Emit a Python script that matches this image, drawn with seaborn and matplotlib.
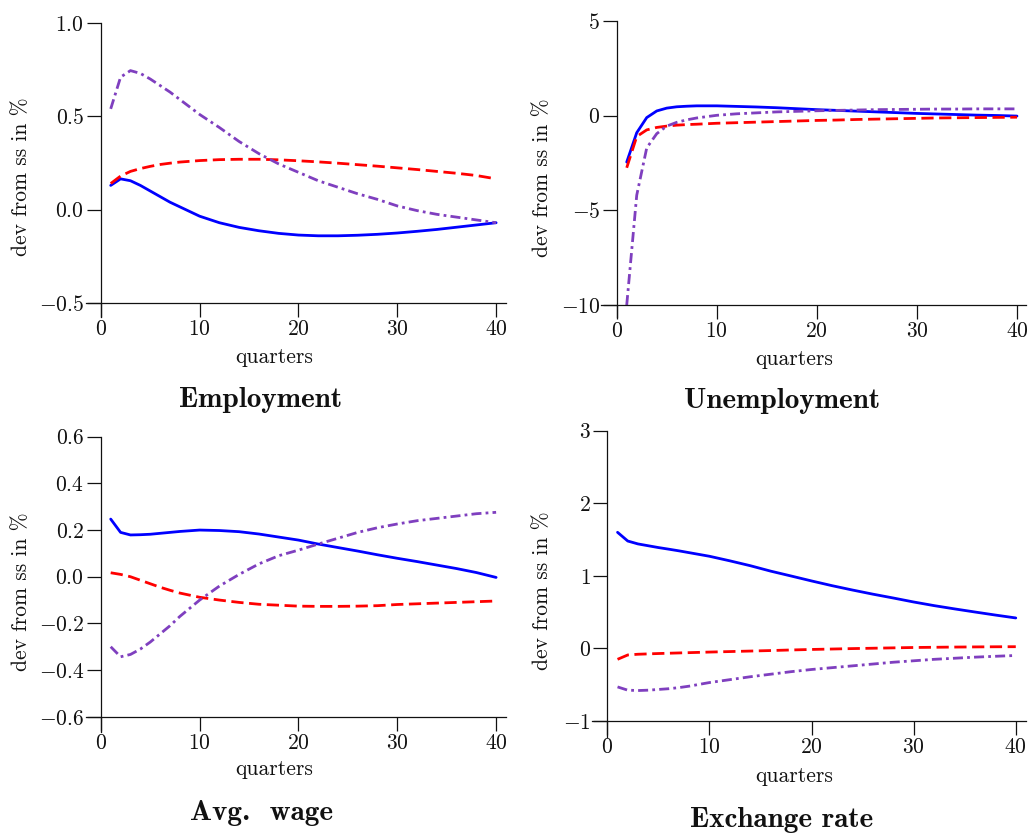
import numpy as np
import pandas as pd
import matplotlib
matplotlib.use("Agg")
import matplotlib.pyplot as plt
import seaborn as sns

# ── Data ─────────────────────────────────────────────────────────────────────
quarters = [1, 2, 3, 4, 5, 6, 7, 8, 10, 12, 14, 16, 18, 20, 22, 24, 26, 28, 30, 32, 34, 36, 38, 40]

emp_blue = [0.13, 0.165, 0.155, 0.13, 0.10, 0.07, 0.04, 0.015, -0.035, -0.07, -0.095, -0.113,
            -0.127, -0.136, -0.14, -0.14, -0.137, -0.132, -0.125, -0.116, -0.106, -0.094, -0.082, -0.07]
emp_red = [0.14, 0.18, 0.205, 0.22, 0.232, 0.242, 0.249, 0.255, 0.263, 0.268, 0.27, 0.27,
           0.267, 0.262, 0.256, 0.249, 0.241, 0.233, 0.224, 0.215, 0.205, 0.195, 0.183, 0.165]
emp_purple = [0.54, 0.71, 0.745, 0.73, 0.70, 0.665, 0.63, 0.59, 0.51, 0.44, 0.365, 0.30,
              0.245, 0.20, 0.155, 0.12, 0.085, 0.055, 0.02, -0.005, -0.025, -0.04, -0.055, -0.07]

unemp_blue = [-2.45, -0.9, -0.1, 0.25, 0.4, 0.47, 0.5, 0.52, 0.52, 0.49, 0.46, 0.42,
              0.37, 0.32, 0.28, 0.24, 0.2, 0.16, 0.12, 0.09, 0.06, 0.03, 0.01, -0.02]
unemp_red = [-2.75, -1.1, -0.75, -0.62, -0.55, -0.5, -0.47, -0.45, -0.4, -0.37, -0.34, -0.31,
             -0.28, -0.25, -0.23, -0.2, -0.18, -0.16, -0.14, -0.12, -0.11, -0.1, -0.09, -0.08]
unemp_purple = [-10.0, -4.2, -1.7, -0.95, -0.55, -0.35, -0.22, -0.12, 0.02, 0.1, 0.15, 0.2,
                0.23, 0.26, 0.28, 0.3, 0.32, 0.33, 0.34, 0.35, 0.35, 0.36, 0.36, 0.36]

wage_blue = [0.247, 0.19, 0.179, 0.18, 0.182, 0.186, 0.19, 0.194, 0.2, 0.198, 0.193, 0.183,
             0.17, 0.157, 0.14, 0.125, 0.11, 0.094, 0.079, 0.065, 0.05, 0.035, 0.018, -0.003]
wage_red = [0.017, 0.01, 0.0, -0.015, -0.03, -0.045, -0.058, -0.07, -0.088, -0.1, -0.11, -0.118,
            -0.122, -0.126, -0.127, -0.127, -0.126, -0.124, -0.119, -0.116, -0.113, -0.11, -0.107, -0.104]
wage_purple = [-0.3, -0.343, -0.333, -0.31, -0.28, -0.245, -0.21, -0.17, -0.1, -0.04, 0.01, 0.055,
               0.09, 0.114, 0.14, 0.165, 0.19, 0.21, 0.226, 0.24, 0.25, 0.26, 0.27, 0.276]

fx_blue = [1.60, 1.48, 1.44, 1.415, 1.39, 1.368, 1.345, 1.32, 1.27, 1.207, 1.14, 1.065,
           0.998, 0.93, 0.865, 0.805, 0.748, 0.695, 0.64, 0.59, 0.545, 0.502, 0.46, 0.42]
fx_red = [-0.15, -0.09, -0.08, -0.075, -0.07, -0.066, -0.062, -0.058, -0.05, -0.043, -0.036, -0.029,
          -0.021, -0.014, -0.008, -0.002, 0.003, 0.008, 0.013, 0.016, 0.019, 0.021, 0.023, 0.024]
fx_purple = [-0.53, -0.575, -0.58, -0.575, -0.565, -0.555, -0.54, -0.52, -0.47, -0.43, -0.39, -0.355,
             -0.32, -0.29, -0.265, -0.24, -0.215, -0.19, -0.17, -0.15, -0.135, -0.12, -0.108, -0.097]

titles = ['Employment', 'Unemployment', 'Avg.  wage', 'Exchange rate']
yticks_list = [[-0.5, 0.0, 0.5, 1.0], [-10, -5, 0, 5],
               [-0.6, -0.4, -0.2, 0.0, 0.2, 0.4, 0.6], [-1, 0, 1, 2, 3]]
xticks = [0, 10, 20, 30, 40]
series_names = ['s1', 's2', 's3']

# ── Style ────────────────────────────────────────────────────────────────────
sns.set_style('ticks')
plt.rcParams['font.family'] = ['cmr10', 'DejaVu Serif']
plt.rcParams['mathtext.fontset'] = 'cm'
plt.rcParams['axes.formatter.use_mathtext'] = True
plt.rcParams['axes.unicode_minus'] = True

palette = {'s1': '#0000ff', 's2': '#ff0000', 's3': '#7f3fbf'}
dashes = {'s1': '', 's2': (4.4, 2.0), 's3': (3.6, 1.5, 1.0, 1.5)}

W, H = 1031, 835
fig = plt.figure(figsize=(W / 100, H / 100), dpi=100)


def px_rect(x0, x1, y0, y1):
    # pixel box (top-down) -> figure fraction rect
    return [x0 / W, 1 - y1 / H, (x1 - x0) / W, (y1 - y0) / H]


panels = [
    dict(rect=px_rect(86, 506, 23, 317), xlim=(-1.5, 41), ylim=(-0.575, 1.0),
         data=(emp_blue, emp_red, emp_purple)),
    dict(rect=px_rect(601, 1026, 21, 317), xlim=(-1.57, 40.9), ylim=(-10.63, 5),
         data=(unemp_blue, unemp_red, unemp_purple)),
    dict(rect=px_rect(86, 506, 436.7, 731.7), xlim=(-1.5, 41), ylim=(-0.664, 0.6),
         data=(wage_blue, wage_red, wage_purple)),
    dict(rect=px_rect(591.7, 1026, 430.7, 736.7), xlim=(-1.53, 41), ylim=(-1.216, 3),
         data=(fx_blue, fx_red, fx_purple)),
]

ylabel_pos = [(21.7, 177), (542, 178), (21.7, 592), (542, 591)]
xlabel_pos = [(274, 362.5), (794, 365), (274, 775), (794, 781.5)]
title_pos = [(261, 407), (782, 408), (262, 820), (782, 827)]

for i, p in enumerate(panels):
    ax = fig.add_axes(p['rect'])
    df = pd.DataFrame({
        'quarter': quarters * 3,
        'value': list(p['data'][0]) + list(p['data'][1]) + list(p['data'][2]),
        'series': [s for s in series_names for _ in quarters],
    })
    sns.lineplot(data=df, x='quarter', y='value', hue='series', style='series',
                 palette=palette, dashes=dashes, linewidth=2.0, legend=False,
                 ax=ax, clip_on=True)
    yt = yticks_list[i]
    ax.set_xlim(*p['xlim'])
    ax.set_ylim(*p['ylim'])
    ax.set_xticks(xticks)
    ax.set_yticks(yt)
    ax.set_xlabel('')
    ax.set_ylabel('')
    ax.spines['top'].set_visible(False)
    ax.spines['right'].set_visible(False)
    ax.spines['left'].set_position(('data', 0))
    ax.spines['bottom'].set_position(('data', yt[0]))
    for sp in ['left', 'bottom']:
        ax.spines[sp].set_linewidth(0.9)
        ax.spines[sp].set_color('#111111')
    ax.tick_params(axis='both', direction='out', length=10, width=0.9,
                   color='#111111', labelsize=15.5, labelcolor='#111111', pad=2)
    ax.patch.set_alpha(0)

    fig.text(ylabel_pos[i][0] / W, 1 - ylabel_pos[i][1] / H, 'dev from ss in %',
             rotation=90, ha='center', va='center', fontsize=15.5, color='#111111')
    fig.text(xlabel_pos[i][0] / W, 1 - xlabel_pos[i][1] / H, 'quarters',
             ha='center', va='baseline', fontsize=15.5, color='#111111')
    fig.text(title_pos[i][0] / W, 1 - title_pos[i][1] / H, titles[i],
             ha='center', va='baseline', fontsize=21, family='cmb10', color='#111111')

fig.savefig('out.png', dpi=100)
